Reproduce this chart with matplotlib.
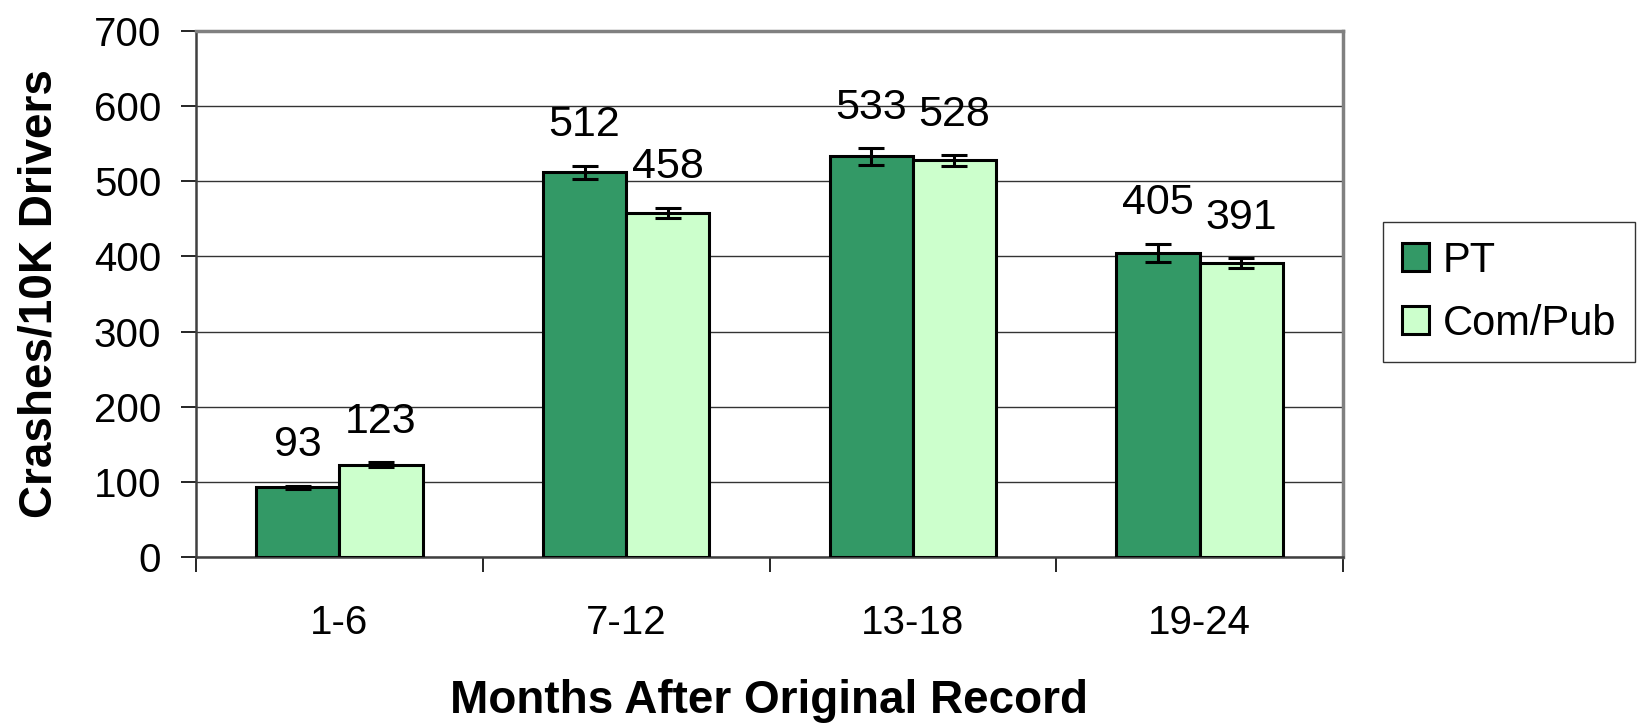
import matplotlib
matplotlib.use("Agg")
import matplotlib.pyplot as plt
import numpy as np

plt.rcParams['font.family'] = ['Liberation Sans', 'DejaVu Sans']

# data
months = ['1-6', '7-12', '13-18', '19-24']
pt_vals = [93, 512, 533, 405]
pt_err = [2, 9, 11, 12]
com_vals = [123, 458, 528, 391]
com_err = [3, 7, 7, 7]
series_names = ['PT', 'Com/Pub']
pt_color = '#339966'
com_color = '#CCFFCC'

fig = plt.figure(figsize=(16.37, 7.25), dpi=100)
ax = fig.add_axes([196 / 1637, 1 - 557 / 725, 1147 / 1637, 526 / 725])

x = np.arange(len(months))
w = 0.29
err_kw = dict(ecolor='black', elinewidth=2.2, capsize=9.7, capthick=2.2)

ax.bar(x - w / 2, pt_vals, w, color=pt_color, edgecolor='black', linewidth=2.2,
       yerr=pt_err, error_kw=err_kw, label=series_names[0], zorder=3)
ax.bar(x + w / 2, com_vals, w, color=com_color, edgecolor='black', linewidth=2.2,
       yerr=com_err, error_kw=err_kw, label=series_names[1], zorder=3)

# value labels above the error bars
for xs, vals, errs in [(x - w / 2, pt_vals, pt_err), (x + w / 2, com_vals, com_err)]:
    for xi, v, e in zip(xs, vals, errs):
        ax.annotate(str(v), (xi, v + e), xytext=(0, 21), textcoords='offset points',
                    ha='center', va='baseline', fontsize=31)

ax.set_xlim(-0.5, len(months) - 0.5)
ax.set_ylim(0, 700)
ax.set_yticks(np.arange(0, 701, 100))
ax.yaxis.grid(True, color='#333333', linewidth=1.0, zorder=0)

# category boundaries get the tick marks, names sit in between
ax.set_xticks(np.arange(-0.5, len(months)), minor=False)
ax.set_xticklabels([''] * (len(months) + 1))
ax.set_xticks(x, minor=True)
ax.set_xticklabels(months, minor=True)
ax.tick_params(axis='x', which='major', length=11, width=1.2, direction='out')
ax.tick_params(axis='x', which='minor', length=0, pad=34, labelsize=29)
ax.tick_params(axis='y', length=11, width=1.2, direction='out', labelsize=29, pad=14)

for s in ['top', 'right']:
    ax.spines[s].set_color('#808080')
    ax.spines[s].set_linewidth(2.5)
for s in ['left', 'bottom']:
    ax.spines[s].set_color('#404040')
    ax.spines[s].set_linewidth(1.8)

ax.set_ylabel('Crashes/10K Drivers', fontsize=33, fontweight='bold')
ax.yaxis.set_label_coords(-0.117, 0.5)
ax.set_xlabel('Months After Original Record', fontsize=33, fontweight='bold')
ax.xaxis.set_label_coords(0.5, -0.232)

leg = fig.legend(loc='upper left', bbox_to_anchor=(1383 / 1637, 1 - 222 / 725),
                 fontsize=30, frameon=True, fancybox=False, edgecolor='black',
                 handlelength=0.65, handleheight=0.65, handletextpad=0.33,
                 borderpad=0.45, labelspacing=0.55, borderaxespad=0)
leg.get_frame().set_linewidth(1.0)

fig.savefig('out.png', dpi=100)
